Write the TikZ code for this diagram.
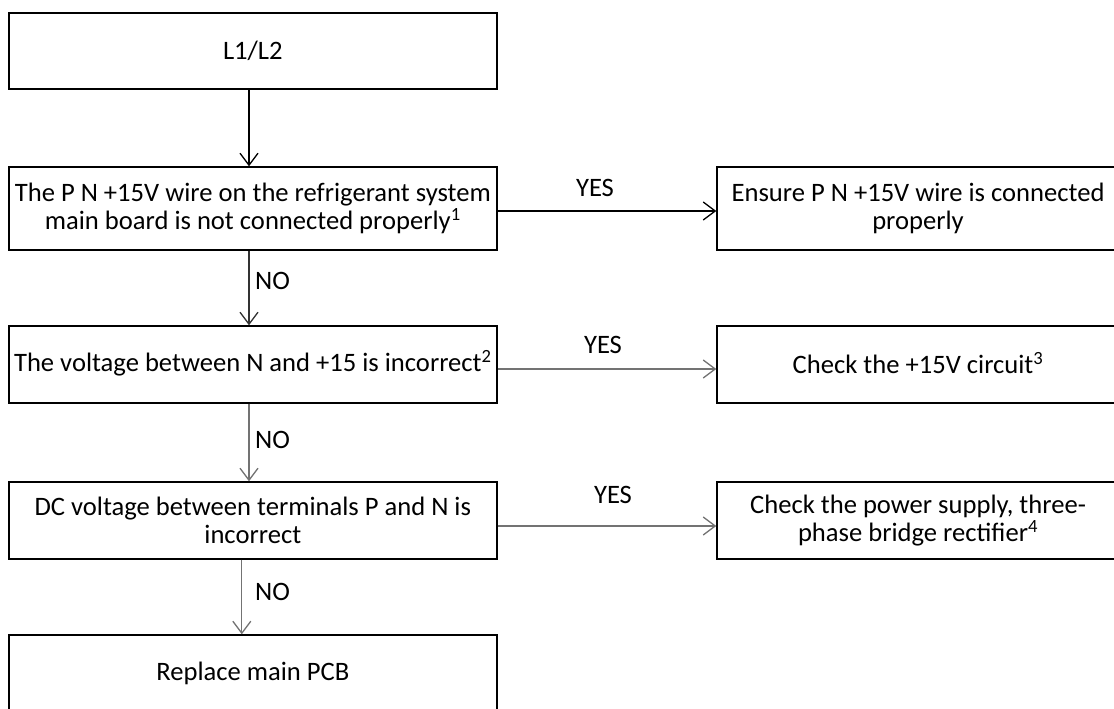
\documentclass[tikz,border=0pt]{standalone}
\usepackage{fontspec}
\setmainfont{Carlito}
\usetikzlibrary{arrows.meta}
\newcommand{\supnote}[1]{\smash{\textsuperscript{#1}}}
\begin{document}
\begin{tikzpicture}[x=1pt,y=-1pt,
  box/.style={draw=black, line width=1.4pt, rectangle, inner sep=0pt, align=center,
    font=\fontsize{26.6}{27.5}\selectfont},
  lbox/.style={box, minimum width=488pt},
  rbox/.style={box, minimum width=402pt},
  lbl/.style={font=\fontsize{26.6}{27.5}\selectfont, inner sep=0pt},
  arr/.style={line width=1.3pt, -{Straight Barb[length=12pt,width=18pt]}},
  garr/.style={arr, draw=black!55}]
\clip (0,0) rectangle (1114,709);
\fill[white] (0,0) rectangle (1114,709);
% left column
\node[lbox, minimum height=76pt] (A) at (252.8,51) {L1/L2};
\node[lbox, minimum height=83pt] (B) at (252.8,208.5)
  {The P N +15V wire on the refrigerant system\\main board is not connected properly\supnote{1}};
\node[lbox, minimum height=77pt] (C) at (252.8,364.5)
  {The voltage between N and +15 is incorrect\supnote{2}};
\node[lbox, minimum height=77pt] (D) at (252.8,520.5)
  {DC voltage between terminals P and N is\\incorrect};
\node[lbox, minimum height=77pt] (E) at (252.8,673.5) {Replace main PCB};
% right column
\node[rbox, minimum height=83pt] (R1) at (918,208.5)
  {Ensure P N +15V wire is connected\\properly};
\node[rbox, minimum height=77pt] (R2) at (918,364.5)
  {Check the +15V circuit\supnote{3}};
\node[rbox, minimum height=77pt] (R3) at (918,520.5)
  {Check the power supply, three-\\phase bridge rectifier\supnote{4}};
% vertical connectors
\draw[arr] ([xshift=-3.8pt]A.south) -- ([xshift=-3.8pt]B.north);
\draw[arr, draw=black!80] ([xshift=-3.8pt]B.south) -- ([xshift=-3.8pt]C.north);
\draw[garr] ([xshift=-3.8pt]C.south) -- ([xshift=-3.8pt]D.north);
\draw[garr] ([xshift=-11pt]D.south) -- ([xshift=-11pt]E.north);
% horizontal connectors
\draw[arr] ([yshift=-2.5pt]B.east) -- ([yshift=-2.5pt]R1.west);
\draw[garr] ([yshift=-4.5pt]C.east) -- ([yshift=-4.5pt]R2.west);
\draw[garr] ([yshift=-5.5pt]D.east) -- ([yshift=-5.5pt]R3.west);
% labels
\node[lbl, anchor=west] (no1) at (255,281) {NO};
\node[lbl, anchor=west] (no2) at (255,440) {NO};
\node[lbl, anchor=west] (no3) at (255,592) {NO};
\node[lbl] (yes1) at (595,188) {YES};
\node[lbl] (yes2) at (603,345) {YES};
\node[lbl] (yes3) at (613,495) {YES};
\end{tikzpicture}
\end{document}
